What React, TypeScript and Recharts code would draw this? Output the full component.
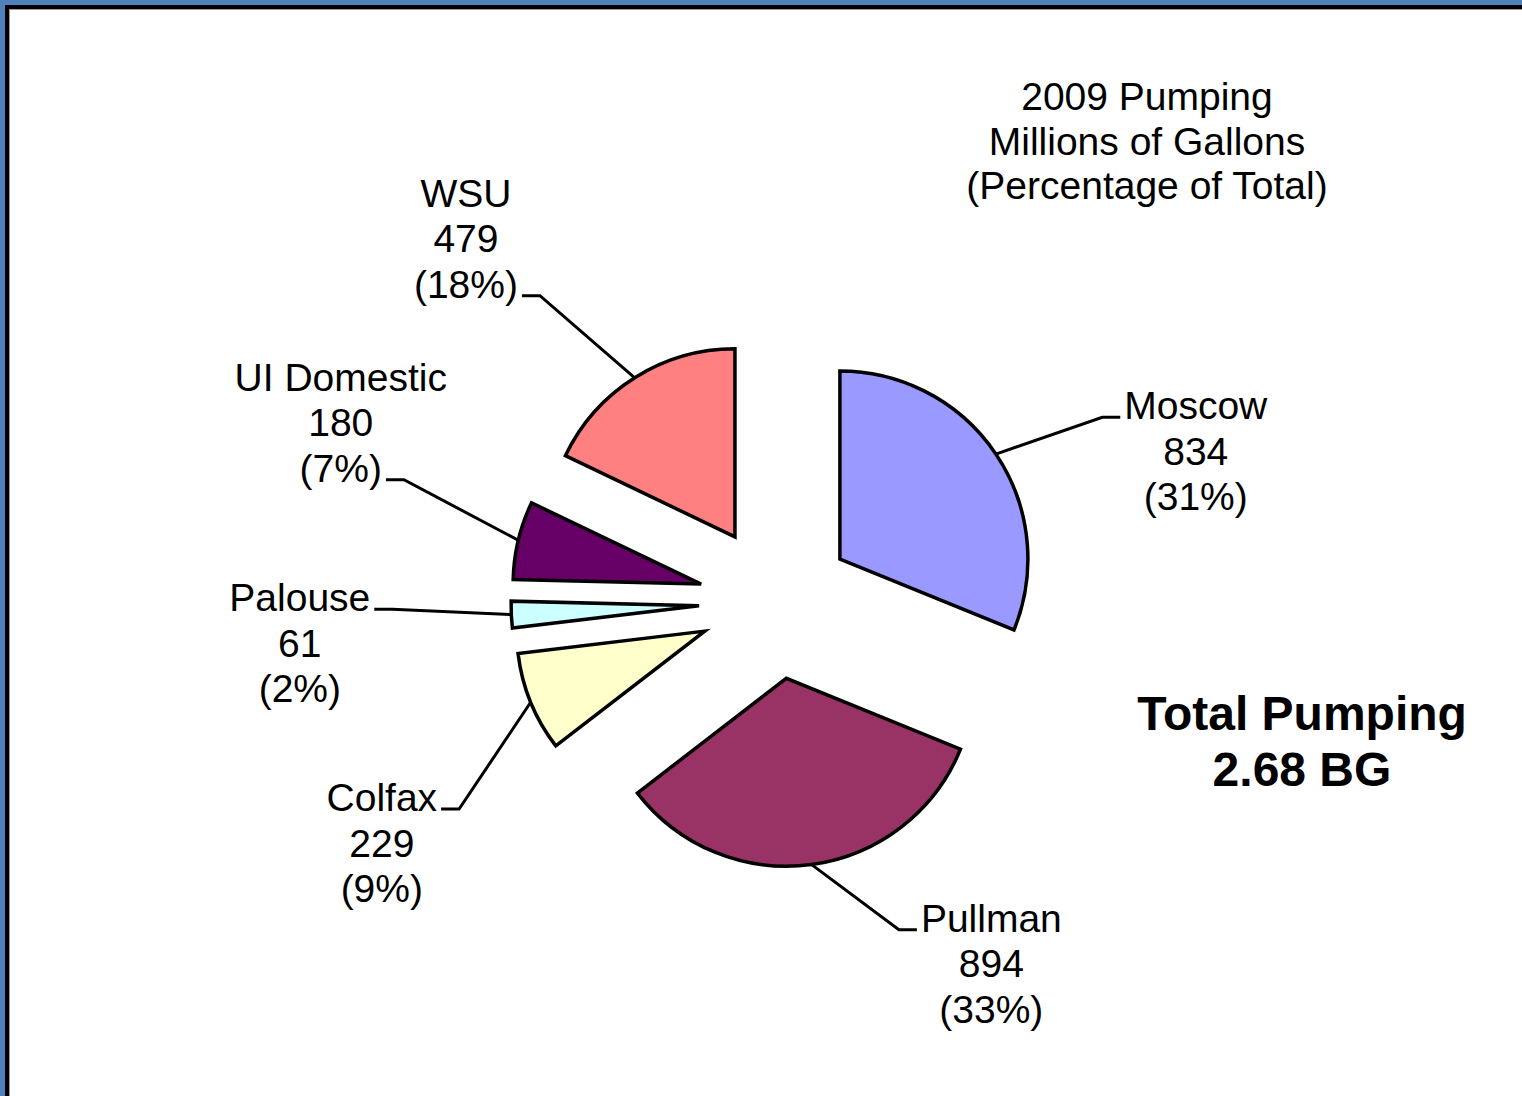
import { PieChart, Pie, Sector } from 'recharts'

const names = ['Moscow', 'Pullman', 'Colfax', 'Palouse', 'UI Domestic', 'WSU']
const values = [834, 894, 229, 61, 180, 479]
const colors = ['#9999FF', '#993366', '#FFFFCC', '#CCFFFF', '#660066', '#FF8080']
const titleLines = ['2009 Pumping', 'Millions of Gallons', '(Percentage of Total)']
const totalLines = ['Total Pumping', '2.68 BG']

// where each label block sits, relative to its exploded slice (degrees off midAngle, px out)
const labelSpots = [
  { shift: -17, dist: 372 },
  { shift: 28, dist: 351 },
  { shift: 11, dist: 386 },
  { shift: 2.6, dist: 401 },
  { shift: -10.7, dist: 395 },
  { shift: 9.8, dist: 402 },
]

const data = names.map((name, i) => ({ name, value: values[i], fill: colors[i] }))

const RAD = Math.PI / 180
const EXPLODE = 77
const FONT = 39
const LINE = 45.5
const font = '"Liberation Sans", Arial, sans-serif'

// rough Arial advance widths, to find the edge of a label line
const widths: Record<string, number> = {
  M: 0.833, o: 0.556, s: 0.5, c: 0.5, w: 0.722, P: 0.667, u: 0.556, l: 0.222, m: 0.833,
  a: 0.556, n: 0.556, C: 0.722, f: 0.278, x: 0.5, e: 0.556, U: 0.722, I: 0.278, ' ': 0.278,
  D: 0.722, t: 0.278, i: 0.222, S: 0.667, W: 0.944, '(': 0.333, ')': 0.333, '%': 0.889,
}
const textWidth = (s: string) =>
  s.split('').reduce((sum, ch) => sum + (widths[ch] ?? 0.556), 0) * FONT

const explode = (cx: number, cy: number, angle: number) => ({
  x: cx + EXPLODE * Math.cos(-angle * RAD),
  y: cy + EXPLODE * Math.sin(-angle * RAD),
})

const ExplodedSlice = (props: any) => {
  const { cx, cy, midAngle, innerRadius, outerRadius, startAngle, endAngle, fill } = props
  const c = explode(cx, cy, midAngle)
  return (
    <Sector
      cx={c.x}
      cy={c.y}
      innerRadius={innerRadius}
      outerRadius={outerRadius}
      startAngle={startAngle}
      endAngle={endAngle}
      fill={fill}
      stroke="#000"
      strokeWidth={3.5}
    />
  )
}

const renderLabel = (props: any) => {
  const { cx, cy, midAngle, outerRadius, percent, index } = props
  const c = explode(cx, cy, midAngle)
  const ax = c.x + outerRadius * Math.cos(-midAngle * RAD)
  const ay = c.y + outerRadius * Math.sin(-midAngle * RAD)
  const spot = labelSpots[index]
  const la = midAngle + spot.shift
  const lx = c.x + spot.dist * Math.cos(-la * RAD)
  const ly = c.y + spot.dist * Math.sin(-la * RAD)
  const lines = [names[index], String(values[index]), `(${Math.round(percent * 100)}%)`]

  const useLast = ly < ay - 40
  const li = useLast ? 2 : 0
  const attachY = ly + (li - 1) * LINE + 12
  const half = textWidth(lines[li]) / 2
  const onRight = lx > ax
  const endX = onRight ? lx - half - 4 : lx + half + 4
  const elbowX = onRight ? endX - 18 : endX + 18

  return (
    <g>
      <polyline
        points={`${ax},${ay} ${elbowX},${attachY} ${endX},${attachY}`}
        fill="none"
        stroke="#000"
        strokeWidth={3}
      />
      {lines.map((t, k) => (
        <text
          key={k}
          x={lx}
          y={ly + (k - 1) * LINE + 14}
          textAnchor="middle"
          fontFamily={font}
          fontSize={FONT}
          fill="#000"
        >
          {t}
        </text>
      ))}
    </g>
  )
}

export default function App() {
  return (
    <div
      style={{
        position: 'fixed',
        left: 0,
        top: 0,
        width: 1522,
        height: 1096,
        overflow: 'hidden',
        background: '#fff',
        fontFamily: font,
      }}
    >
      <div style={{ position: 'absolute', left: 0, top: 0, width: 1600, height: 5, background: '#4F81BD' }} />
      <div style={{ position: 'absolute', left: 0, top: 0, width: 5, height: 1200, background: '#4F81BD' }} />
      <div style={{ position: 'absolute', left: 5, top: 5, width: 1600, height: 4, background: '#000' }} />
      <div style={{ position: 'absolute', left: 5, top: 5, width: 4, height: 1200, background: '#000' }} />
      <div style={{ position: 'absolute', left: 9, top: 9, width: 1600, height: 1, background: '#9a9a9a' }} />
      <div style={{ position: 'absolute', left: 9, top: 9, width: 1, height: 1200, background: '#9a9a9a' }} />

      <div style={{ position: 'absolute', left: 0, top: 0 }}>
        <PieChart width={1522} height={1096} margin={{ top: 0, right: 0, bottom: 0, left: 0 }}>
          <Pie
            data={data}
            dataKey="value"
            nameKey="name"
            cx={776}
            cy={602}
            innerRadius={0}
            outerRadius={188}
            startAngle={90}
            endAngle={-270}
            shape={ExplodedSlice}
            label={renderLabel}
            labelLine={false}
            isAnimationActive={false}
          />
        </PieChart>
      </div>

      <div
        style={{
          position: 'absolute',
          left: 847,
          top: 75,
          width: 600,
          textAlign: 'center',
          fontSize: FONT,
          lineHeight: '44.5px',
          color: '#000',
        }}
      >
        {titleLines.map((t) => (
          <div key={t}>{t}</div>
        ))}
      </div>

      <div
        style={{
          position: 'absolute',
          left: 1002,
          top: 686,
          width: 600,
          textAlign: 'center',
          fontSize: 48,
          fontWeight: 'bold',
          lineHeight: '56px',
          color: '#000',
        }}
      >
        {totalLines.map((t) => (
          <div key={t}>{t}</div>
        ))}
      </div>
    </div>
  )
}
